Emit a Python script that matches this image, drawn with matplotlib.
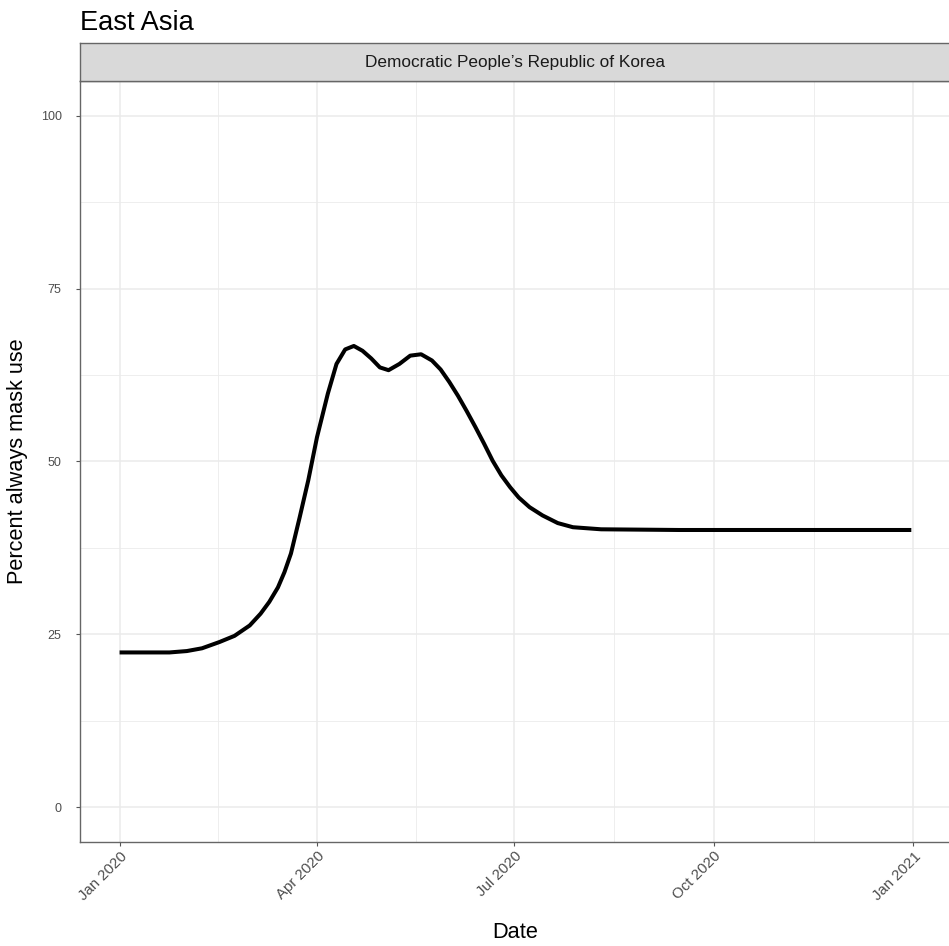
import numpy as np
import pandas as pd
import matplotlib
matplotlib.use("Agg")
import matplotlib.pyplot as plt
import matplotlib.dates as mdates

plt.rcParams['font.family'] = ['Liberation Sans', 'DejaVu Sans']

region = 'East Asia'
country = "Democratic People\u2019s Republic of Korea"

dates = ['2020-01-01', '2020-01-24', '2020-02-01', '2020-02-08', '2020-02-16',
         '2020-02-23', '2020-03-01', '2020-03-06', '2020-03-10', '2020-03-14',
         '2020-03-17', '2020-03-20', '2020-03-24', '2020-03-28',
         '2020-04-01', '2020-04-06', '2020-04-10', '2020-04-14', '2020-04-18',
         '2020-04-22', '2020-04-26', '2020-04-30', '2020-05-04', '2020-05-09',
         '2020-05-14', '2020-05-19', '2020-05-24', '2020-05-28', '2020-06-01',
         '2020-06-05', '2020-06-09', '2020-06-13', '2020-06-17', '2020-06-21',
         '2020-06-25', '2020-06-29', '2020-07-03', '2020-07-08', '2020-07-14',
         '2020-07-21', '2020-07-28', '2020-08-10', '2020-09-15', '2020-11-01',
         '2020-12-31']
mask_pct = [22.4, 22.4, 22.6, 23.0, 23.9,
            24.8, 26.3, 28.0, 29.7, 31.8,
            34.0, 36.7, 41.9, 47.3,
            53.5, 59.8, 64.1, 66.2, 66.7,
            66.0, 64.9, 63.6, 63.2, 64.1,
            65.3, 65.5, 64.6, 63.3, 61.5,
            59.5, 57.3, 55.0, 52.6, 50.1,
            48.0, 46.3, 44.8, 43.4, 42.2,
            41.1, 40.5, 40.2, 40.1, 40.1,
            40.1]

tick_dates = ['2020-01-01', '2020-04-01', '2020-07-01', '2020-10-01', '2021-01-01']
tick_labels = ['Jan 2020', 'Apr 2020', 'Jul 2020', 'Oct 2020', 'Jan 2021']
y_ticks = [0, 25, 50, 75, 100]

W, H = 949, 946
fig = plt.figure(figsize=(W / 100, H / 100), dpi=100)
ax = fig.add_axes([80 / W, (H - 842) / H, 1 - 80 / W + 0.002, (842 - 81) / H])

x = pd.to_datetime(dates)
ax.plot(x, mask_pct, color='black', lw=2.9, solid_capstyle='butt',
        solid_joinstyle='round', zorder=3)

# ggplot-style 5% expansion
xn = mdates.date2num(x)
span = xn.max() - xn.min()
ax.set_xlim(xn.min() - 0.05 * span, xn.max() + 0.05 * span)
ax.set_ylim(-5, 105)

major = mdates.date2num(pd.to_datetime(tick_dates))
ax.set_xticks(major)
ax.set_xticklabels(tick_labels, rotation=45, ha='right', va='top',
                   rotation_mode='anchor', fontsize=10.8, color='#4D4D4D')
ax.set_xticks((major[:-1] + major[1:]) / 2, minor=True)
ax.set_yticks(y_ticks)
ax.set_yticklabels([str(v) for v in y_ticks], fontsize=9, color='#4D4D4D')
ax.set_yticks([12.5, 37.5, 62.5, 87.5], minor=True)

ax.grid(which='major', color='#EBEBEB', lw=1.1)
ax.grid(which='minor', color='#EBEBEB', lw=0.6)
ax.set_axisbelow(True)
ax.tick_params(which='major', length=3.2, width=0.8, color='#555555')
ax.tick_params(axis='y', which='major', pad=10)
ax.tick_params(axis='x', which='major', pad=2)
ax.tick_params(which='minor', length=0)
for s in ax.spines.values():
    s.set_color('#666666')
    s.set_linewidth(1.0)

ax.set_xlabel('Date', fontsize=15.7, color='black', va='center')
ax.xaxis.set_label_coords(0.5, (842 - 932) / (842 - 81))
ax.set_ylabel('Percent always mask use', fontsize=15.7, color='black', va='center')
ax.yaxis.set_label_coords((18 - 80) / (W - 80), 0.5)

# facet strip
sax = fig.add_axes([80 / W, (H - 81) / H, 1 - 80 / W + 0.002, 38 / H])
sax.set_facecolor('#D9D9D9')
sax.set_xticks([])
sax.set_yticks([])
for s in sax.spines.values():
    s.set_color('#666666')
    s.set_linewidth(1.0)
sax.text(0.5, 0.5, country, transform=sax.transAxes,
         ha='center', va='center', fontsize=12.4, color='#1A1A1A')

fig.text(80 / W, 1 - 30 / H, region, fontsize=19.6, color='black', va='baseline')

fig.savefig('out.png', dpi=100)
